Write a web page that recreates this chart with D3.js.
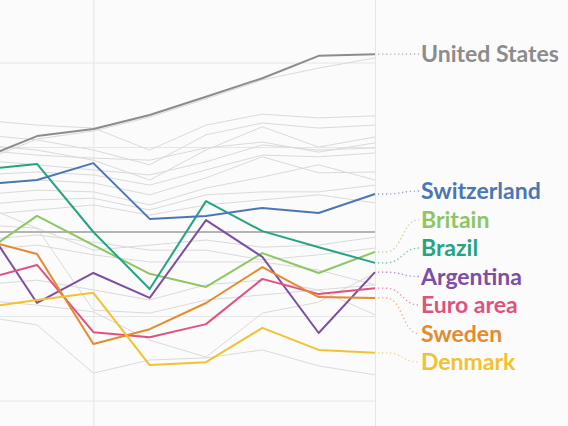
<!DOCTYPE html>
<html><head><meta charset="utf-8">
<script src="https://cdn.jsdelivr.net/npm/d3@7"></script>
<style>html,body{margin:0;padding:0;background:#fbfbfb;}svg{display:block;}</style>
</head><body><svg id="c" width="568" height="426"></svg>
<script>
const years = ["2008","2009","2010","2011","2012","2013","2014","2015"];
const yTicks = [-40,-20,0,20,40];
const xGridYears = ["2010","2015"];

const usValues          = [17.3,22.7,24.4,27.7,32.0,36.4,41.7,42.1];
const switzerlandValues = [11.2,12.3,16.3,3.1,3.8,5.7,4.5,9.0];
const britainValues     = [-5.4,3.8,-3.1,-9.9,-13.0,-5.0,-9.7,-4.7];
const brazilValues      = [14.7,16.1,0.0,-13.5,7.3,0.2,-3.6,-7.3];
const argentinaValues   = [3.3,-16.8,-9.7,-15.6,2.8,-5.9,-23.9,-9.5];
const euroValues        = [-11.4,-7.8,-23.7,-24.9,-21.8,-11.1,-14.7,-13.3];
const swedenValues      = [-1.7,-5.2,-26.5,-23.0,-16.8,-8.3,-15.4,-15.6];
const denmarkValues     = [-18.0,-16.1,-14.4,-31.5,-30.8,-22.7,-27.9,-28.6];

const otherValues = [
  [16.6,22.0,23.9,27.2,31.5,36.0,38.8,41.2],
  [26.5,25.3,24.6,19.4,25.3,27.9,27.0,27.5],
  [23.0,21.8,19.4,15.9,23.0,25.8,24.6,25.3],
  [20.6,19.4,17.0,12.3,19.4,24.9,20.1,22.5],
  [19.4,18.2,17.5,17.0,19.9,21.3,18.9,21.1],
  [17.0,15.9,14.7,13.5,16.6,20.6,19.4,19.9],
  [13.5,14.2,13.5,11.1,14.7,18.2,17.8,18.7],
  [11.1,12.3,11.6,8.8,12.8,17.8,14.0,14.2],
  [8.8,9.9,9.5,6.4,10.4,13.0,15.9,12.3],
  [6.4,7.6,8.0,5.2,8.8,9.5,9.5,11.1],
  [4.0,5.2,6.4,4.0,6.4,7.6,8.8,6.9],
  [1.7,0.9,-4.3,-3.1,-1.9,-3.6,-3.1,-1.2],
  [-1.9,-0.7,-2.4,-4.3,-4.3,-6.6,-5.4,-3.8],
  [-4.3,-3.1,-5.4,-7.1,-7.1,-7.1,-9.0,-12.5],
  [6.4,0.9,-18.5,-19.2,-16.1,-14.9,-13.7,-12.5],
  [-16.1,-17.3,-18.9,-25.6,-29.6,-19.2,-16.6,-9.7],
  [-19.9,-22.0,-33.4,-30.3,-29.8,-27.9,-31.7,-33.8],
  [-12.5,-11.4,-13.7,-16.1,-12.5,-11.4,-13.7,-19.6]
];

const seriesNames  = ["United States","Switzerland","Britain","Brazil","Argentina","Euro area","Sweden","Denmark"];
const seriesValues = [usValues,switzerlandValues,britainValues,brazilValues,argentinaValues,euroValues,swedenValues,denmarkValues];
const seriesColors = ["#8c8c8c","#4a77b4","#8dc663","#26a383","#7d4f9f","#e0527e","#e48a2f","#f1c232"];
const labelSlots   = [54,191,219.5,248,276.5,305,333.5,362];

const svg = d3.select("#c");
const W = 568, H = 426;
const x = d3.scalePoint().domain(years).range([-19.3, 375]);
const y = d3.scaleLinear().domain([-40, 40]).range([401, 63]);

// gridlines
svg.append("g").selectAll("line").data(yTicks.filter(d=>d!==0)).join("line")
  .attr("x1",0).attr("x2",x("2015")).attr("y1",d=>y(d)).attr("y2",d=>y(d))
  .attr("stroke","#e6e6e6").attr("stroke-width",1);
svg.append("g").selectAll("line").data(xGridYears).join("line")
  .attr("x1",d=>x(d)+0.5).attr("x2",d=>x(d)+0.5).attr("y1",0).attr("y2",H)
  .attr("stroke","#e6e6e6").attr("stroke-width",1);

const line = d3.line().x((d,i)=>x(years[i])).y(d=>y(d));

svg.append("g").selectAll("path").data(otherValues).join("path")
  .attr("d",line).attr("fill","none").attr("stroke","#dadada").attr("stroke-width",1);

// zero line
svg.append("line").attr("x1",0).attr("x2",x("2015")).attr("y1",y(0)).attr("y2",y(0))
  .attr("stroke","#b4b4b4").attr("stroke-width",2);

const order = [0,2,3,4,5,6,7,1];
svg.append("g").selectAll("path").data(order).join("path")
  .attr("d",i=>line(seriesValues[i])).attr("fill","none")
  .attr("stroke",i=>seriesColors[i]).attr("stroke-width",2).attr("stroke-linejoin","round");

// leaders
const link = d3.linkHorizontal();
const lx0 = x("2015") + 3, lx1 = 419;
svg.append("g").selectAll("path").data(seriesNames).join("path")
  .attr("d",(n,i)=>{
    const y0 = y(seriesValues[i][7]), y1 = labelSlots[i];
    return "M"+lx0+","+y0+"H"+(lx0+8)+link({source:[lx0+8,y0],target:[lx1,y1]}).slice(1).replace(/^[^C]*/, m=>"L"+m);
  })
  .attr("fill","none").attr("stroke",(n,i)=>seriesColors[i]).attr("stroke-opacity",0.65)
  .attr("stroke-width",1.3).attr("stroke-dasharray","1.3,2.7");

svg.append("g").selectAll("text").data(seriesNames).join("text")
  .attr("x",421).attr("y",(n,i)=>labelSlots[i]).attr("dy","0.36em")
  .attr("fill",(n,i)=>seriesColors[i])
  .style("font-family","Lato, 'Open Sans', sans-serif").style("font-weight","700").style("font-size","23px")
  .text(n=>n);
</script></body></html>
